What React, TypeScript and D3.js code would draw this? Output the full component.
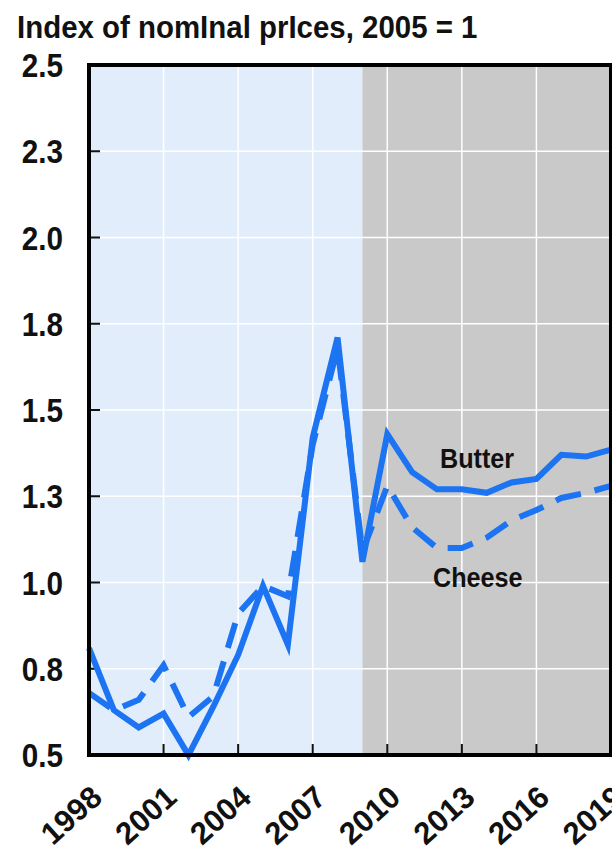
import React from "react";
import * as d3 from "d3";

const years = [1998,1999,2000,2001,2002,2003,2004,2005,2006,2007,2008,2009,2010,2011,2012,2013,2014,2015,2016,2017,2018,2019];
const butter = [0.81,0.63,0.58,0.62,0.50,0.64,0.79,0.99,0.82,1.42,1.71,1.06,1.43,1.32,1.27,1.27,1.26,1.29,1.30,1.37,1.365,1.385];
const cheese = [0.68,0.63,0.66,0.76,0.61,0.67,0.91,0.99,0.96,1.40,1.68,1.09,1.28,1.16,1.10,1.10,1.13,1.18,1.21,1.245,1.26,1.28];
const yTicks = [0.5,0.75,1.0,1.25,1.5,1.75,2.0,2.25,2.5];
const yTickLabels = ["0.5","0.8","1.0","1.3","1.5","1.8","2.0","2.3","2.5"];
const xTicks = [1998,2001,2004,2007,2010,2013,2016,2019];
const projectionStart = 2009;
const title = "Index of nomInal prIces, 2005 = 1";
const seriesLabels = ["Butter", "Cheese"];

const W = 612, H = 851;
const FONT = "'Liberation Sans', Arial, sans-serif";
const BLUE = "#1c74f2";
const SX = 0.9;

export default function App() {
  const x = d3.scaleLinear().domain([1998, 2019]).range([89, 611]);
  const y = d3.scaleLinear().domain([0.5, 2.5]).range([755, 65]);
  const line = d3.line<number>().x((_, i) => x(years[i])).y(d => y(d));
  const [x0, x1] = x.range();
  const [yb, yt] = y.range();
  return (
    <svg width={W} height={H} style={{ position: "absolute", left: 0, top: 0, background: "#fff" }} fontFamily={FONT} fontWeight="bold">
      <text transform={`translate(17,38) scale(0.92,1)`} fontSize={32} fill="#111">{title}</text>
      <rect x={x0} y={yt} width={x(projectionStart) - x0} height={yb - yt} fill="#e2edfb" />
      <rect x={x(projectionStart)} y={yt} width={x1 - x(projectionStart)} height={yb - yt} fill="#c9c9c9" />
      {yTicks.slice(1, -1).map(t => (
        <line key={"gy" + t} x1={x0} x2={x1} y1={y(t)} y2={y(t)} stroke="#fff" strokeWidth={1.5} />
      ))}
      {xTicks.slice(1, -1).map(t => (
        <line key={"gx" + t} x1={x(t)} x2={x(t)} y1={yt} y2={yb} stroke="#fff" strokeWidth={1.5} />
      ))}
      {yTicks.slice(1, -1).map(t => (
        <line key={"ty" + t} x1={x0} x2={x0 + 11} y1={y(t)} y2={y(t)} stroke="#111" strokeWidth={2} />
      ))}
      {xTicks.slice(1, -1).map(t => (
        <line key={"tx" + t} x1={x(t)} x2={x(t)} y1={yb} y2={yb - 11} stroke="#111" strokeWidth={2} />
      ))}
      <path d={line(cheese) || ""} fill="none" stroke={BLUE} strokeWidth={6} strokeDasharray="26,14" strokeLinejoin="miter" />
      <path d={line(butter) || ""} fill="none" stroke={BLUE} strokeWidth={6} strokeLinejoin="miter" />
      <rect x={x0} y={yt} width={x1 - x0} height={yb - yt} fill="none" stroke="#000" strokeWidth={4} />
      {yTicks.map((t, i) => (
        <text key={"ly" + t} transform={`translate(63,${y(t) + 12}) scale(${SX},1)`} fontSize={33} textAnchor="end" fill="#111">{yTickLabels[i]}</text>
      ))}
      {xTicks.map(t => (
        <text key={"lx" + t} transform={`translate(${x(t) + 15},${800}) rotate(-42)`} fontSize={31} textAnchor="end" fill="#111">{t}</text>
      ))}
      <text transform={`translate(440,468) scale(${SX},1)`} fontSize={28} fill="#111">{seriesLabels[0]}</text>
      <text transform={`translate(433,587) scale(${SX},1)`} fontSize={28} fill="#111">{seriesLabels[1]}</text>
    </svg>
  );
}
